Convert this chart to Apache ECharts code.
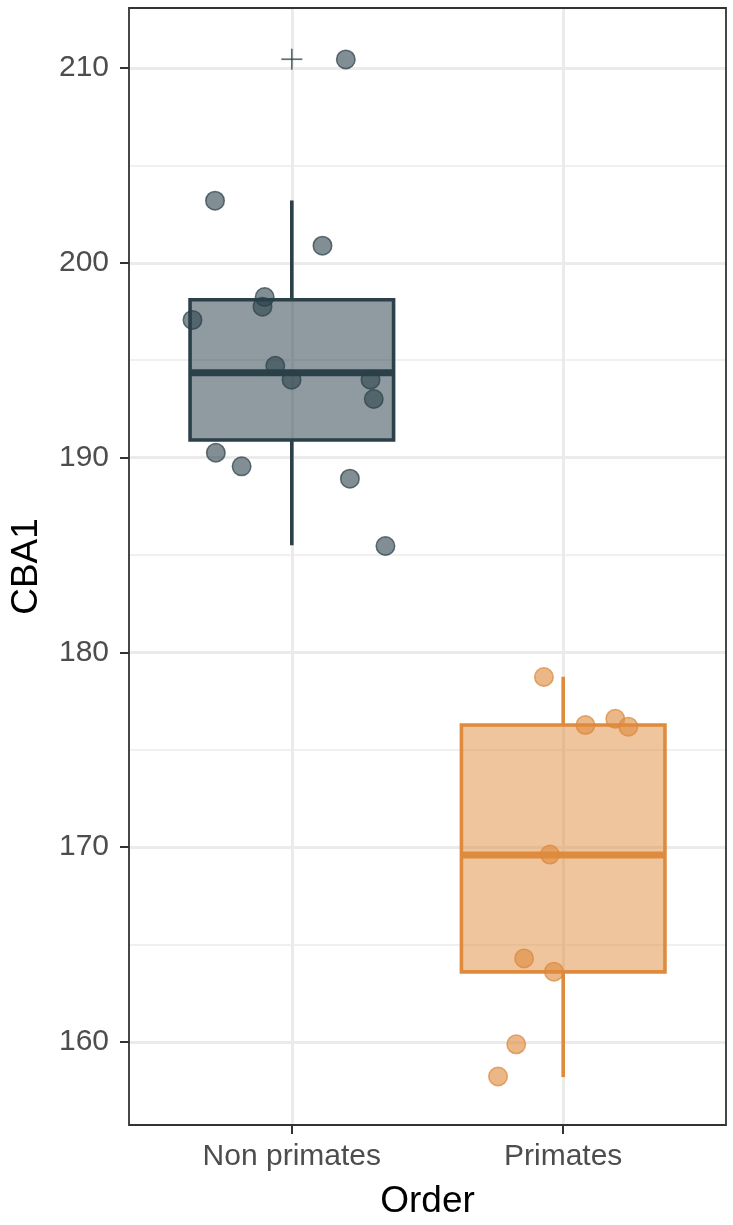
<!DOCTYPE html>
<html>
<head>
<meta charset="utf-8">
<script src="https://cdn.jsdelivr.net/npm/echarts@6/dist/echarts.min.js"></script>
<style>
html,body{margin:0;padding:0;background:#fff;}
#chart{width:733px;height:1225px;}
</style>
</head>
<body>
<div id="chart"></div>
<script>
// ---- data ----
const categories = ['Non primates', 'Primates'];
const categoryPos = [1, 2];

// box statistics (min whisker, Q1, median, Q3, max whisker)
const boxMin = [185.5, 158.2];
const boxQ1 = [190.9, 163.6];
const boxMedian = [194.35, 169.6];
const boxQ3 = [198.1, 176.27];
const boxMax = [203.2, 178.75];

// outliers
const outlierX = [1];
const outlierY = [210.45];

// jittered points
const nonPrimX = [1.199, 0.717, 1.113, 0.900, 0.892, 0.634, 0.939, 0.999, 1.290, 1.302, 0.720, 0.815, 1.214, 1.345];
const nonPrimY = [210.44, 203.19, 200.88, 198.24, 197.75, 197.07, 194.71, 194.0, 194.0, 193.01, 190.25, 189.55, 188.92, 185.46];
const primX = [1.929, 2.192, 2.082, 2.240, 1.951, 1.856, 1.966, 1.827, 1.760];
const primY = [178.74, 176.59, 176.27, 176.19, 169.62, 164.29, 163.61, 159.88, 158.23];

// axis ticks
const yMajorTicks = [160, 170, 180, 190, 200, 210];
const yMinorTicks = [165, 175, 185, 195, 205];
const yRange = [155.74, 213.08];
const xRange = [0.4, 2.6];

// ---- styles ----
const FONT = "'Liberation Sans', Arial, Helvetica, sans-serif";
const lineColors = ['#2B4049', '#DF8B3E'];
const boxFills = ['rgba(43,66,76,0.53)', 'rgba(223,139,62,0.5)'];
const pointFills = ['rgba(43,64,72,0.74)', 'rgba(223,139,62,0.78)'];
const pointBorders = ['rgba(43,64,72,0.9)', 'rgba(221,135,58,0.9)'];
const BOX_HALF = 0.375;

const boxData = categoryPos.map((x, i) => [x, boxMin[i], boxQ1[i], boxMedian[i], boxQ3[i], boxMax[i]]);
const outlierData = outlierX.map((x, i) => [x, outlierY[i]]);
const npData = nonPrimX.map((x, i) => [x, nonPrimY[i]]);
const prData = primX.map((x, i) => [x, primY[i]]);

const gridLines = [];
yMinorTicks.forEach(v => gridLines.push({ yAxis: v, lineStyle: { width: 1.6 } }));
yMajorTicks.forEach(v => gridLines.push({ yAxis: v, lineStyle: { width: 3 } }));
categoryPos.forEach(v => gridLines.push({ xAxis: v, lineStyle: { width: 3 } }));

const chart = echarts.init(document.getElementById('chart'), null, { renderer: 'canvas' });

const option = {
  animation: false,
  backgroundColor: '#ffffff',
  textStyle: { fontFamily: FONT },
  grid: {
    left: 126, right: 7, top: 8, bottom: 95,
    show: true, borderColor: '#333333', borderWidth: 1.8, backgroundColor: 'transparent',
    z: 10
  },
  xAxis: {
    type: 'value',
    min: xRange[0], max: xRange[1],
    axisLine: { show: false },
    splitLine: { show: false },
    axisTick: { show: true, length: 9, lineStyle: { color: '#333333', width: 2 }, customValues: categoryPos },
    axisLabel: {
      customValues: categoryPos,
      formatter: v => categories[categoryPos.indexOf(Math.round(v))] || '',
      color: '#4D4D4D', fontSize: 30, fontFamily: FONT, margin: 17
    },
    name: 'Order',
    nameLocation: 'middle',
    nameGap: 58,
    nameTextStyle: { color: '#000000', fontSize: 37, fontFamily: FONT }
  },
  yAxis: {
    type: 'value',
    min: yRange[0], max: yRange[1],
    axisLine: { show: false },
    splitLine: { show: false },
    axisTick: { show: true, length: 9, lineStyle: { color: '#333333', width: 2 }, customValues: yMajorTicks },
    axisLabel: {
      customValues: yMajorTicks,
      color: '#4D4D4D', fontSize: 30, fontFamily: FONT, margin: 20
    },
    name: 'CBA1',
    nameLocation: 'middle',
    nameGap: 84,
    nameRotate: 90,
    nameTextStyle: { color: '#000000', fontSize: 37, fontFamily: FONT }
  },
  series: [
    {
      type: 'scatter',
      data: [],
      z: 0,
      silent: true,
      markLine: {
        z: 0,
        silent: true,
        symbol: ['none', 'none'],
        label: { show: false },
        lineStyle: { color: '#EBEBEB', type: 'solid' },
        emphasis: { disabled: true },
        data: gridLines
      }
    },
    {
      type: 'custom',
      z: 3,
      silent: true,
      data: boxData,
      encode: { x: 0, y: [1, 2, 3, 4, 5] },
      renderItem: function (params, api) {
        const i = params.dataIndex;
        const x = api.value(0);
        const lo = api.value(1), q1 = api.value(2), med = api.value(3), q3 = api.value(4), hi = api.value(5);
        const col = lineColors[i];
        const tl = api.coord([x - BOX_HALF, q3]);
        const br = api.coord([x + BOX_HALF, q1]);
        const mL = api.coord([x - BOX_HALF, med]);
        const mR = api.coord([x + BOX_HALF, med]);
        const cTop = api.coord([x, hi]);
        const cQ3 = api.coord([x, q3]);
        const cQ1 = api.coord([x, q1]);
        const cBot = api.coord([x, lo]);
        return {
          type: 'group',
          children: [
            { type: 'line', shape: { x1: cQ3[0], y1: cQ3[1], x2: cTop[0], y2: cTop[1] }, style: { stroke: col, lineWidth: 3.6 } },
            { type: 'line', shape: { x1: cQ1[0], y1: cQ1[1], x2: cBot[0], y2: cBot[1] }, style: { stroke: col, lineWidth: 3.6 } },
            { type: 'rect', shape: { x: tl[0], y: tl[1], width: br[0] - tl[0], height: br[1] - tl[1] }, style: { fill: boxFills[i], stroke: col, lineWidth: 3.6 } },
            { type: 'line', shape: { x1: mL[0], y1: mL[1], x2: mR[0], y2: mR[1] }, style: { stroke: col, lineWidth: 7 } }
          ]
        };
      }
    },
    {
      type: 'custom',
      z: 4,
      silent: true,
      data: outlierData,
      encode: { x: 0, y: 1 },
      renderItem: function (params, api) {
        const p = api.coord([api.value(0), api.value(1)]);
        const h = 10.5;
        const st = { stroke: 'rgba(43,64,72,0.75)', lineWidth: 1.7 };
        return {
          type: 'group',
          children: [
            { type: 'line', shape: { x1: p[0] - h, y1: p[1], x2: p[0] + h, y2: p[1] }, style: st },
            { type: 'line', shape: { x1: p[0], y1: p[1] - h, x2: p[0], y2: p[1] + h }, style: st }
          ]
        };
      }
    },
    {
      type: 'scatter',
      z: 5,
      silent: true,
      data: npData,
      symbol: 'circle',
      symbolSize: 18.5,
      itemStyle: { color: pointFills[0], borderColor: pointBorders[0], borderWidth: 1.5 }
    },
    {
      type: 'scatter',
      z: 5,
      silent: true,
      data: prData,
      symbol: 'circle',
      symbolSize: 18.5,
      itemStyle: { color: pointFills[1], borderColor: pointBorders[1], borderWidth: 1.5 }
    }
  ]
};
chart.setOption(option);
</script>
</body>
</html>
